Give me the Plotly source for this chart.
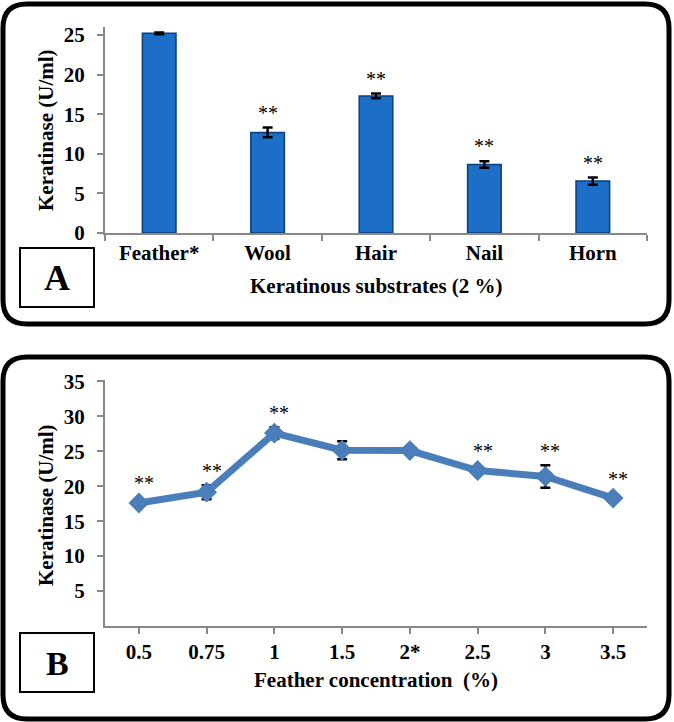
import plotly.graph_objects as go

# ---------------- data ----------------
substrates = ["Feather*", "Wool", "Hair", "Nail", "Horn"]
activity_A = [25.2, 12.7, 17.3, 8.65, 6.55]
error_A = [0.1, 0.6, 0.3, 0.4, 0.45]
signif_A = ["", "**", "**", "**", "**"]

concentrations = ["0.5", "0.75", "1", "1.5", "2*", "2.5", "3", "3.5"]
activity_B = [17.6, 19.15, 27.6, 25.15, 25.1, 22.25, 21.4, 18.3]
error_B = [0.2, 1.0, 0.85, 1.3, 0.2, 0.3, 1.6, 0.2]
signif_B = ["**", "**", "**", "", "", "**", "**", "**"]

yticks_A = [0, 5, 10, 15, 20, 25]
yticks_B = [5, 10, 15, 20, 25, 30, 35]

W, H = 674, 722
FONT = "Liberation Serif"


def px(x):
    return x / W


def py(y):
    return 1 - y / H


def rounded_rect(x0, y0, x1, y1, r):
    pts = [
        f"M {px(x0 + r)},{py(y0)}",
        f"L {px(x1 - r)},{py(y0)}",
        f"Q {px(x1)},{py(y0)} {px(x1)},{py(y0 + r)}",
        f"L {px(x1)},{py(y1 - r)}",
        f"Q {px(x1)},{py(y1)} {px(x1 - r)},{py(y1)}",
        f"L {px(x0 + r)},{py(y1)}",
        f"Q {px(x0)},{py(y1)} {px(x0)},{py(y1 - r)}",
        f"L {px(x0)},{py(y0 + r)}",
        f"Q {px(x0)},{py(y0)} {px(x0 + r)},{py(y0)}",
        "Z",
    ]
    return " ".join(pts)


fig = go.Figure()

fig.add_trace(go.Bar(
    x=substrates, y=activity_A,
    error_y=dict(type="data", array=error_A, color="black", thickness=2.5, width=5),
    marker=dict(color="#1d6ec6", line=dict(color="#0b3d7a", width=1.5)),
    width=0.31, xaxis="x", yaxis="y", showlegend=False,
))

fig.add_trace(go.Scatter(
    x=concentrations, y=activity_B, mode="lines+markers",
    line=dict(color="#4a7ebb", width=7),
    marker=dict(symbol="diamond", size=16, color="#4a7ebb"),
    error_y=dict(type="data", array=error_B, color="black", thickness=2.5, width=5),
    xaxis="x2", yaxis="y2", showlegend=False,
))

axis_common = dict(
    showline=True, linecolor="#888888", linewidth=2,
    ticks="outside", ticklen=6, tickcolor="#888888", tickwidth=2,
    showgrid=False, zeroline=False, automargin=False,
    tickfont=dict(family=FONT, size=21, color="black", weight="bold"),
)

fig.update_layout(
    template="none",
    width=W, height=H,
    margin=dict(l=0, r=0, t=0, b=0, pad=0),
    paper_bgcolor="white", plot_bgcolor="white",
    xaxis=dict(domain=[px(105), px(647)], anchor="y", type="category",
               tickson="boundaries", range=[-0.5, 4.5], **axis_common),
    yaxis=dict(domain=[py(233), py(27)], anchor="x", range=[0, 26],
               tickvals=yticks_A, ticklabelstandoff=8, **axis_common),
    xaxis2=dict(domain=[px(105), px(647)], anchor="y2", type="category",
                range=[-0.5, 7.5], **axis_common),
    yaxis2=dict(domain=[py(626), py(380)], anchor="x2", range=[0, 35.2],
                tickvals=yticks_B, ticklabelstandoff=8, **axis_common),
)

annotations = []
for i, (v, e, s) in enumerate(zip(activity_A, error_A, signif_A)):
    if s:
        annotations.append(dict(x=i, y=v + e, xref="x", yref="y", text=s,
                                showarrow=False, xanchor="center", yanchor="bottom", yshift=2,
                                font=dict(family=FONT, size=20, color="black")))
for i, (v, e, s) in enumerate(zip(activity_B, error_B, signif_B)):
    if s:
        annotations.append(dict(x=i, y=max(v + e, v + 0.8), xref="x2", yref="y2", text=s,
                                showarrow=False, xanchor="center", yanchor="bottom",
                                yshift=1, xshift=5,
                                font=dict(family=FONT, size=20, color="black")))

bold = dict(family=FONT, size=21, color="black", weight="bold")
centered = dict(xref="paper", yref="paper", showarrow=False, xanchor="center", yanchor="middle")
annotations += [
    dict(x=px(376), y=py(286), text="Keratinous substrates (2 %)", font=bold, **centered),
    dict(x=px(46), y=py(130), text="Keratinase (U/ml)", textangle=-90, font=bold, **centered),
    dict(x=px(376), y=py(680), text="Feather concentration  (%)", font=bold, **centered),
    dict(x=px(46), y=py(505), text="Keratinase (U/ml)", textangle=-90, font=bold, **centered),
    dict(x=px(57), y=py(278), text="A",
         font=dict(family=FONT, size=36, color="black", weight="bold"), **centered),
    dict(x=px(57), y=py(663), text="B",
         font=dict(family=FONT, size=34, color="black", weight="bold"), **centered),
]
fig.update_layout(annotations=annotations)

shapes = [
    dict(type="path", xref="paper", yref="paper", path=rounded_rect(3, 4, 669, 324, 24),
         line=dict(color="black", width=5)),
    dict(type="path", xref="paper", yref="paper", path=rounded_rect(3, 357, 669, 719, 24),
         line=dict(color="black", width=5)),
    dict(type="rect", xref="paper", yref="paper", x0=px(20), x1=px(94), y0=py(307), y1=py(248),
         line=dict(color="black", width=2), fillcolor="white"),
    dict(type="rect", xref="paper", yref="paper", x0=px(20), x1=px(94), y0=py(692), y1=py(633),
         line=dict(color="black", width=2), fillcolor="white"),
]
fig.update_layout(shapes=shapes)

fig.write_html("out.html", config={"displayModeBar": False},
               post_script="document.body.style.margin='0';")
